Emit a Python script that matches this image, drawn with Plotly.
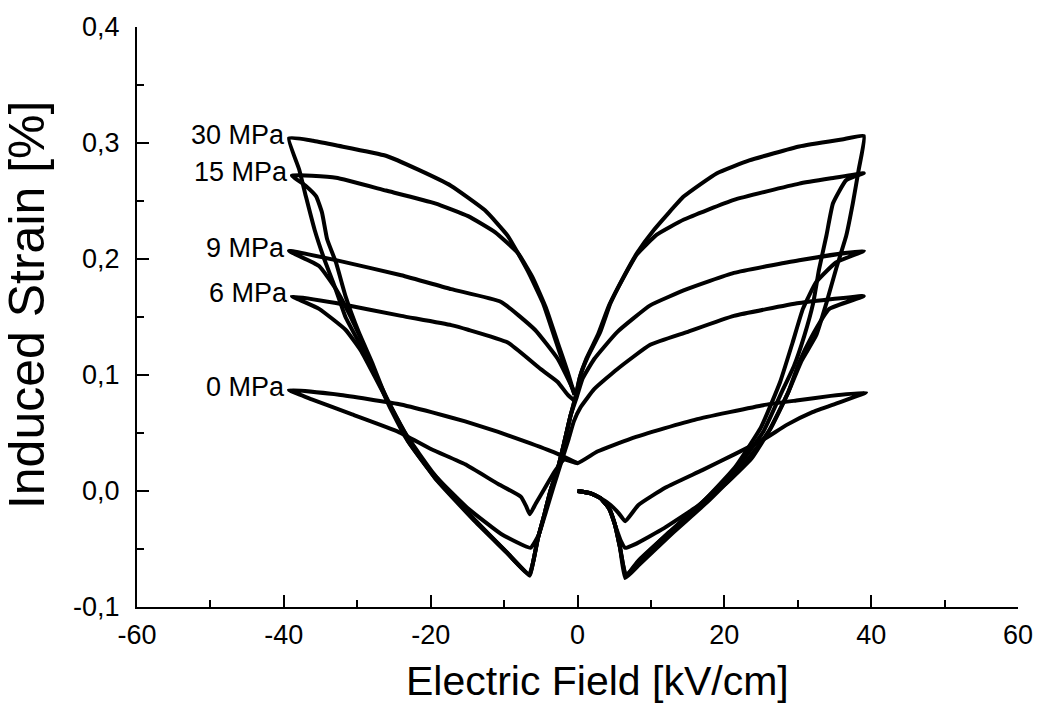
import plotly.graph_objects as go

# ---- data: Electric field [kV/cm] and induced strain [%] along each measured loop ----
e_30 = [0, 1.8, 3.1, 4.3, 5.1, 5.8, 6.5,
        8.5, 13.0, 17.6, 22.0, 26.0, 28.7, 30.5, 32.5, 33.9, 35.2, 36.6, 37.5, 38.3, 39.0,
        36.0, 30.2, 23.4, 19.0, 14.5, 10.4, 8.1, 6.4, 4.5, 3.1, 1.35, 0.4, -0.27,
        -0.95, -1.8, -2.7, -3.7, -4.5, -5.4, -6.0, -6.5,
        -9.5, -14.0, -19.4, -23.0, -25.5, -27.5, -29.5, -31.6, -33.0, -34.5, -35.8, -37.0, -37.9, -39.3,
        -36.0, -32.9, -26.1, -21.7, -17.2, -12.6, -9.5, -6.8, -4.7, -3.1, -1.6, -0.4]
s_30 = [0, -0.002, -0.006, -0.015, -0.029, -0.049, -0.075,
        -0.063, -0.036, -0.010, 0.018, 0.051, 0.085, 0.112, 0.134, 0.162, 0.191, 0.220, 0.248, 0.277, 0.306,
        0.303, 0.297, 0.285, 0.274, 0.254, 0.225, 0.205, 0.186, 0.162, 0.137, 0.115, 0.100, 0.081,
        0.065, 0.042, 0.019, 0.0, -0.020, -0.041, -0.060, -0.073,
        -0.054, -0.026, 0.011, 0.045, 0.074, 0.100, 0.125, 0.150, 0.175, 0.200, 0.225, 0.254, 0.277, 0.304,
        0.302, 0.298, 0.289, 0.277, 0.263, 0.242, 0.220, 0.190, 0.162, 0.132, 0.104, 0.083]

e_15 = [0, 1.8, 3.1, 4.3, 5.1, 5.8, 6.6,
        8.3, 12.6, 17.1, 21.6, 25.3, 27.8, 29.5, 30.9, 32.1, 32.9, 33.9, 34.8, 36.6, 39.0,
        35.0, 30.2, 21.3, 14.5, 10.8, 8.1, 6.1, 4.3, 2.8, 1.2, 0.27, -0.27,
        -0.95, -1.8, -2.7, -3.7, -4.5, -5.4, -6.0, -6.6,
        -9.8, -14.2, -19.6, -23.4, -26.1, -28.0, -29.8, -31.6, -32.9, -34.1, -34.8, -35.6, -37.0, -38.9,
        -32.9, -26.1, -19.4, -14.9, -11.2, -8.1, -6.1, -4.3, -2.7, -1.35, -0.4]
s_15 = [0, -0.002, -0.006, -0.015, -0.029, -0.049, -0.073,
        -0.060, -0.035, -0.009, 0.019, 0.051, 0.085, 0.108, 0.134, 0.162, 0.191, 0.220, 0.248, 0.268, 0.274,
        0.270, 0.265, 0.251, 0.234, 0.221, 0.204, 0.182, 0.160, 0.135, 0.114, 0.097, 0.081,
        0.065, 0.042, 0.019, 0.0, -0.020, -0.041, -0.060, -0.072,
        -0.052, -0.024, 0.015, 0.049, 0.081, 0.111, 0.137, 0.168, 0.197, 0.217, 0.240, 0.254, 0.263, 0.272,
        0.270, 0.259, 0.248, 0.237, 0.223, 0.205, 0.184, 0.158, 0.128, 0.103, 0.083]

e_9 = [0, 1.8, 3.1, 4.3, 5.1, 5.8, 6.6,
       8.3, 12.4, 17.0, 21.4, 25.0, 27.6, 29.3, 30.7, 32.5, 35.2, 39.0,
       30.2, 21.3, 14.9, 9.9, 5.4, 2.3, 0.7, -0.1,
       -0.95, -1.8, -2.7, -3.7, -4.5, -5.4, -6.0, -6.5,
       -9.6, -14.1, -19.5, -23.3, -25.7, -27.6, -29.5, -31.2, -32.9, -35.2, -39.3,
       -32.9, -24.0, -17.2, -10.4, -5.8, -2.7, -0.4]
s_9 = [0, -0.002, -0.006, -0.015, -0.029, -0.049, -0.073,
       -0.061, -0.036, -0.010, 0.020, 0.055, 0.094, 0.128, 0.157, 0.180, 0.197, 0.207,
       0.199, 0.188, 0.174, 0.160, 0.137, 0.114, 0.097, 0.081,
       0.065, 0.042, 0.019, 0.0, -0.020, -0.041, -0.060, -0.072,
       -0.053, -0.024, 0.012, 0.045, 0.074, 0.102, 0.131, 0.154, 0.174, 0.194, 0.207,
       0.199, 0.186, 0.174, 0.163, 0.139, 0.114, 0.085]

e_6 = [0, 1.8, 3.1, 4.3, 5.1, 5.9, 6.5,
       7.8, 11.8, 16.6, 20.5, 23.7, 26.4, 28.7, 30.2, 31.8, 34.3, 39.0,
       30.2, 21.3, 14.9, 9.9, 5.4, 2.3, 0.4,
       -0.5, -1.2, -2.2, -3.2, -4.3, -5.3, -6.4,
       -10.4, -14.9, -20.3, -23.0, -25.1, -27.4, -29.5, -31.6, -35.2, -38.9,
       -32.9, -24.0, -17.2, -14.9, -9.5, -5.0, -2.7, -1.35, -0.27]
s_6 = [0, -0.002, -0.006, -0.015, -0.029, -0.043, -0.049,
       -0.046, -0.032, -0.012, 0.008, 0.028, 0.055, 0.085, 0.111, 0.132, 0.157, 0.168,
       0.162, 0.151, 0.137, 0.126, 0.105, 0.088, 0.072,
       0.060, 0.045, 0.025, 0.005, -0.018, -0.038, -0.049,
       -0.037, -0.015, 0.019, 0.042, 0.068, 0.096, 0.121, 0.139, 0.157, 0.168,
       0.162, 0.151, 0.143, 0.139, 0.128, 0.105, 0.094, 0.083, 0.077]

e_0 = [0, 1.8, 3.1, 4.5, 5.6, 6.5,
       8.3, 12.0, 17.0, 21.5, 25.5, 28.5, 32.0, 35.5, 39.3,
       34.5, 29.8, 25.3, 20.7, 16.3, 11.8, 7.2, 2.7, 0.0,
       -1.8, -3.1, -4.5, -5.7, -6.5,
       -7.0, -7.7, -10.8, -15.3, -19.9, -24.4, -30.7, -36.2, -39.3,
       -32.5, -24.4, -19.9, -15.3, -10.8, -6.4, -2.7, 0.0]
s_0 = [0, -0.002, -0.006, -0.012, -0.019, -0.026,
       -0.012, 0.003, 0.018, 0.032, 0.045, 0.057, 0.068, 0.076, 0.085,
       0.082, 0.078, 0.074, 0.068, 0.062, 0.054, 0.045, 0.034, 0.024,
       0.027, 0.017, 0.002, -0.011, -0.020,
       -0.013, -0.005, 0.006, 0.023, 0.036, 0.051, 0.066, 0.079, 0.087,
       0.083, 0.075, 0.068, 0.060, 0.051, 0.041, 0.032, 0.024]

loops = [("30 MPa", e_30, s_30), ("15 MPa", e_15, s_15), ("9 MPa", e_9, s_9),
         ("6 MPa", e_6, s_6), ("0 MPa", e_0, s_0)]

x_tickvals = [-60, -40, -20, 0, 20, 40, 60]
x_ticktext = ["-60", "-40", "-20", "0", "20", "40", "60"]
x_minor = [-50, -30, -10, 10, 30, 50]
y_tickvals = [-0.1, 0.0, 0.1, 0.2, 0.3, 0.4]
y_ticktext = ["-0,1", "0,0", "0,1", "0,2", "0,3", "0,4"]
y_minor = [-0.05, 0.05, 0.15, 0.25, 0.35]

FONT = "Liberation Sans, Arial, Helvetica, sans-serif"

fig = go.Figure()
for name, ex, sy in loops:
    fig.add_trace(go.Scatter(x=ex, y=sy, mode="lines", name=name,
                             line=dict(color="black", width=4, shape="spline", smoothing=0.4),
                             showlegend=False, hoverinfo="skip"))
    i_left = ex.index(min(ex))
    fig.add_annotation(x=ex[i_left], y=sy[i_left],
                       text=name, showarrow=False, xanchor="right", yanchor="middle",
                       xshift=-2, yshift=3, font=dict(family=FONT, size=27, color="black"))

axis_common = dict(showgrid=False, zeroline=False, showline=True, linecolor="black", linewidth=2,
                   ticks="inside", ticklen=12, tickwidth=2, tickcolor="black", mirror=False,
                   tickfont=dict(family=FONT, size=27, color="black"))

fig.update_xaxes(range=[-60, 60], tickmode="array", tickvals=x_tickvals, ticktext=x_ticktext,
                 minor=dict(tickmode="array", tickvals=x_minor, ticks="inside", ticklen=7,
                            tickwidth=2, tickcolor="black"),
                 ticklabelstandoff=3, **axis_common)
fig.update_yaxes(range=[-0.1, 0.4], tickmode="array", tickvals=y_tickvals, ticktext=y_ticktext,
                 minor=dict(tickmode="array", tickvals=y_minor, ticks="inside", ticklen=7,
                            tickwidth=2, tickcolor="black"),
                 ticklabelstandoff=10, **axis_common)

fig.add_annotation(xref="paper", yref="paper", x=0.5226, y=-0.127, text="Electric Field [kV/cm]",
                   showarrow=False, xanchor="center", yanchor="middle",
                   font=dict(family=FONT, size=41, color="black"))
fig.add_annotation(xref="paper", yref="paper", x=-0.125, y=0.522, text="Induced Strain [%]",
                   showarrow=False, xanchor="center", yanchor="middle", textangle=-90,
                   font=dict(family=FONT, size=50, color="black"))

fig.update_layout(width=1045, height=706, margin=dict(l=137, r=22, t=22, b=99),
                  paper_bgcolor="white", plot_bgcolor="white",
                  font=dict(family=FONT, color="black"))

fig.write_html("out.html")
